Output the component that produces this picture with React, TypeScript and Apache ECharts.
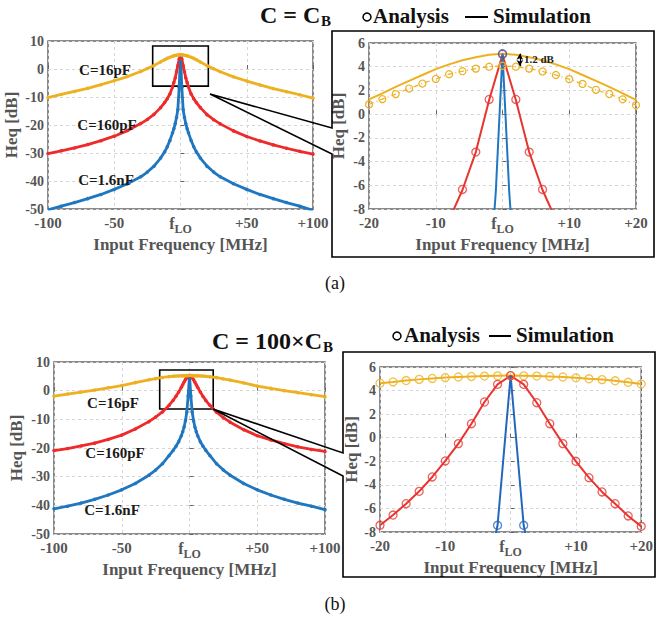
import React, { useEffect, useRef } from 'react';
import * as echarts from 'echarts';

// ---------- data ----------
const xWide = [-100, -90, -80, -70, -60, -50, -40, -30, -25, -20, -15, -12, -10, -8, -6, -5, -4, -3, -2, -1, 0, 1, 2, 3, 4, 5, 6, 8, 10, 12, 15, 20, 25, 30, 40, 50, 60, 70, 80, 90, 100];

// (a) C = C_B, wide view
const a16 = [-10.2, -9.1, -8.0, -6.9, -5.6, -4.2, -2.7, -0.9, 0.2, 1.25, 2.55, 3.3, 3.8, 4.2, 4.55, 4.7, 4.8, 4.9, 5.0, 5.05, 5.1, 5.05, 5.0, 4.9, 4.8, 4.7, 4.55, 4.2, 3.8, 3.3, 2.5, 1.2, 0.1, -1.0, -2.8, -4.3, -5.7, -7.0, -8.1, -9.2, -10.4];
const a160 = [-30.2, -29.2, -28.2, -27.0, -25.6, -24.0, -22.0, -19.5, -18.0, -16.2, -13.8, -12.0, -10.6, -8.9, -6.4, -4.8, -3.2, -1.0, 1.2, 3.6, 5.0, 3.6, 1.2, -1.0, -3.2, -4.8, -6.4, -8.9, -10.6, -12.0, -13.8, -16.3, -18.1, -19.6, -22.1, -24.1, -25.7, -27.1, -28.3, -29.4, -30.4];
const a1600 = [-50.3, -49.0, -47.7, -46.3, -44.8, -43.0, -41.0, -38.5, -36.8, -34.7, -31.8, -29.6, -27.8, -25.5, -22.8, -21.3, -19.5, -17.3, -14.5, -6.5, 5.0, -6.5, -14.5, -17.3, -19.5, -21.3, -22.8, -25.5, -27.8, -29.6, -31.8, -34.7, -36.8, -38.5, -41.0, -43.0, -44.8, -46.3, -47.7, -49.0, -50.5];

// (b) C = 100 x C_B, wide view
const b16 = [-1.9, -1.2, -0.5, 0.2, 1.0, 1.8, 2.8, 3.8, 4.2, 4.62, 4.9, 5.03, 5.1, 5.15, 5.2, 5.21, 5.23, 5.24, 5.25, 5.26, 5.27, 5.26, 5.25, 5.24, 5.23, 5.21, 5.2, 5.15, 5.08, 5.0, 4.85, 4.55, 4.1, 3.7, 2.7, 1.6, 0.8, 0.0, -0.7, -1.4, -2.1];
const b160 = [-20.9, -20.2, -19.3, -18.3, -17.0, -15.5, -13.4, -10.8, -9.2, -7.43, -5.05, -3.33, -1.97, -0.5, 1.19, 2.1, 3.03, 3.85, 4.53, 5.0, 5.26, 5.0, 4.53, 3.8, 2.97, 2.1, 1.19, -0.5, -2.0, -3.39, -5.1, -7.52, -9.4, -11.0, -13.6, -15.7, -17.2, -18.5, -19.6, -20.5, -21.2];
const b1600 = [-41.2, -40.3, -39.2, -37.9, -36.4, -34.6, -32.4, -29.5, -27.7, -25.5, -22.6, -20.8, -19.4, -17.8, -15.7, -14.3, -12.7, -10.5, -7.43, -1.9, 5.26, -1.9, -7.43, -10.5, -12.7, -14.3, -15.7, -17.8, -19.4, -20.8, -22.6, -25.5, -27.7, -29.5, -32.4, -34.6, -36.4, -37.9, -39.2, -40.3, -41.5];

// zoomed views
const xZoom = [-20, -18, -16, -14, -12, -10, -8, -6, -4, -2, 0, 2, 4, 6, 8, 10, 12, 14, 16, 18, 20];
const aZoomSim16 = [1.25, 1.75, 2.3, 2.8, 3.3, 3.8, 4.2, 4.55, 4.8, 5.0, 5.1, 5.0, 4.8, 4.55, 4.2, 3.8, 3.3, 2.8, 2.3, 1.75, 1.2];
const aZoomAna16 = [0.82, 1.27, 1.69, 2.16, 2.58, 2.97, 3.37, 3.62, 3.84, 4.0, 4.08, 4.0, 3.84, 3.6, 3.3, 2.95, 2.55, 2.05, 1.7, 1.25, 0.76];
const aZoomSimX160 = [-10, -8, -6, -4, -2, 0, 2, 4, 6, 8, 10];
const aZoomSim160 = [-10.6, -8.9, -6.4, -3.2, 1.2, 5.0, 1.2, -3.2, -6.4, -8.9, -10.6];
const aZoomAnaX160 = [-6, -4, -2, 0, 2, 4, 6];
const aZoomAna160 = [-6.35, -3.2, 1.24, 5.05, 1.24, -3.2, -6.35];
const aZoomSimX1600 = [-2, -1, 0, 1, 2];
const aZoomSim1600 = [-14.5, -6.5, 5.1, -6.5, -14.5];
const aZoomAnaX1600 = [0];
const aZoomAna1600 = [5.1];

const bZoom16 = [4.62, 4.73, 4.85, 4.95, 5.03, 5.1, 5.15, 5.2, 5.23, 5.25, 5.27, 5.25, 5.23, 5.2, 5.15, 5.08, 5.0, 4.93, 4.83, 4.7, 4.55];
const bZoom160 = [-7.43, -6.56, -5.6, -4.55, -3.33, -1.97, -0.5, 1.19, 3.03, 4.53, 5.26, 4.53, 2.97, 1.19, -0.5, -2.0, -3.39, -4.6, -5.6, -6.64, -7.52];
const bZoomSimX1600 = [-4, -2, 0, 2, 4];
const bZoomSim1600 = [-12.7, -7.43, 5.26, -7.43, -12.7];
const bZoomAnaX1600 = [-2, 2];
const bZoomAna1600 = [-7.43, -7.43];

// annotation boxes (data coords) and gap marker
const zoomBoxA = [[-21, 8.2], [21, -6.1]];
const zoomBoxB = [[-22, 7.2], [17.5, -6.4]];
const gapArrow = [[2.6, 5.1], [2.6, 4.05]];

const curveLabels = ['C=16pF', 'C=160pF', 'C=1.6nF'];

// ---------- styling ----------
const FONT = '"Liberation Serif", "Times New Roman", serif';
const GRAY = '#555555';
const YEL = '#EDB120';
const RED = '#EE2A2A';
const BLUE = '#1F77C0';
const RED2 = '#E8342F';
const BLUE2 = '#2367BD';

const pairs = (xs: number[], ys: number[]) => xs.map((x, i) => [x, ys[i]]);

function xAxisOf(gridIndex: number, min: number, max: number, interval: number, nameGap: number) {
  return {
    type: 'value', gridIndex, min, max, interval,
    name: 'Input Frequency [MHz]', nameLocation: 'middle', nameGap,
    nameTextStyle: { fontFamily: FONT, fontWeight: 'bold', fontSize: 17, color: GRAY },
    axisLine: { show: false },
    axisTick: { show: true, inside: true, length: 4, lineStyle: { color: '#666' } },
    splitLine: { show: true, lineStyle: { color: '#d6d6d6', type: [3, 3], width: 1 } },
    axisLabel: {
      margin: 6, fontFamily: FONT, fontWeight: 'bold', fontSize: 15, color: GRAY,
      formatter: (v: number) => (v === 0 ? '{f|f}{s|LO}' : v > 0 ? '+' + v : String(v)),
      rich: {
        f: { fontFamily: FONT, fontWeight: 'bold', fontSize: 16, color: GRAY, verticalAlign: 'top' },
        s: { fontFamily: FONT, fontWeight: 'bold', fontSize: 12, color: GRAY, verticalAlign: 'top', padding: [8, 0, 0, 0] },
      },
    },
  };
}

function yAxisOf(gridIndex: number, min: number, max: number, interval: number, nameGap: number) {
  return {
    type: 'value', gridIndex, min, max, interval,
    name: 'Heq [dB]', nameLocation: 'middle', nameGap,
    nameTextStyle: { fontFamily: FONT, fontWeight: 'bold', fontSize: 17, color: GRAY },
    axisLine: { show: false },
    axisTick: { show: true, inside: true, length: 4, lineStyle: { color: '#666' } },
    splitLine: { show: true, lineStyle: { color: '#d6d6d6', type: [3, 3], width: 1 } },
    axisLabel: { margin: 4, fontFamily: FONT, fontWeight: 'bold', fontSize: 14, color: GRAY },
  };
}

function wideLine(name: string, ax: number, ys: number[], color: string, extra: any = {}) {
  return {
    name, type: 'line', xAxisIndex: ax, yAxisIndex: ax, data: pairs(xWide, ys),
    showSymbol: true, symbol: 'circle', symbolSize: 3.5,
    lineStyle: { color, width: 2.8 }, itemStyle: { color }, z: 3, ...extra,
  };
}

function simLine(name: string, ax: number, xs: number[], ys: number[], color: string, extra: any = {}) {
  return {
    name, type: 'line', xAxisIndex: ax, yAxisIndex: ax, data: pairs(xs, ys),
    showSymbol: false, symbol: 'none', lineStyle: { color, width: 2 }, itemStyle: { color }, z: 3, ...extra,
  };
}

function anaPoints(name: string, ax: number, xs: number[], ys: number[], color: string) {
  return {
    name, type: 'scatter', xAxisIndex: ax, yAxisIndex: ax, data: pairs(xs, ys),
    symbol: 'circle', symbolSize: 8,
    itemStyle: { color: 'rgba(255,255,255,0)', borderColor: color, borderWidth: 1.3 }, z: 5,
  };
}

function boxArea(box: number[][]) {
  return {
    silent: true,
    itemStyle: { color: 'rgba(0,0,0,0)', borderColor: '#000', borderWidth: 1.6 },
    data: [[{ coord: box[0] }, { coord: box[1] }]],
  };
}

const T = (x: number, y: number, text: string, font: string, align = 'left', fill = '#111') => ({
  type: 'text', x, y, z: 20,
  style: { text, font, fill, align, verticalAlign: 'middle', textAlign: align, textVerticalAlign: 'middle' },
});

export default function App() {
  const ref = useRef<HTMLDivElement>(null);
  useEffect(() => {
    if (!ref.current) return;
    const chart = echarts.init(ref.current, null, { renderer: 'svg' });
    const boldLbl = `bold 15px ${FONT}`;
    const option: any = {
      animation: false,
      backgroundColor: '#fff',
      grid: [
        { left: 48, top: 41, width: 265, height: 168, show: true, borderColor: '#666', borderWidth: 1.5, backgroundColor: 'transparent' },
        { left: 369, top: 43, width: 267, height: 166, show: true, borderColor: '#666', borderWidth: 1.5, backgroundColor: 'transparent' },
        { left: 54, top: 362, width: 271, height: 172, show: true, borderColor: '#666', borderWidth: 1.5, backgroundColor: 'transparent' },
        { left: 380, top: 367, width: 265, height: 165, show: true, borderColor: '#666', borderWidth: 1.5, backgroundColor: 'transparent' },
      ],
      xAxis: [
        xAxisOf(0, -100, 100, 50, 23),
        xAxisOf(1, -20, 20, 10, 23),
        xAxisOf(2, -100, 100, 50, 22),
        xAxisOf(3, -20, 20, 10, 20),
      ],
      yAxis: [
        yAxisOf(0, -50, 10, 10, 28),
        yAxisOf(1, -8, 6, 2, 22),
        yAxisOf(2, -50, 10, 10, 29),
        yAxisOf(3, -8, 6, 2, 17),
      ],
      series: [
        // (a) wide
        wideLine('a 160pF', 0, a160, RED),
        wideLine('a 1.6nF', 0, a1600, BLUE),
        wideLine('a 16pF', 0, a16, YEL, { markArea: boxArea(zoomBoxA) }),
        // (a) zoom
        simLine('a zoom sim 16pF', 1, xZoom, aZoomSim16, YEL, {
          markLine: {
            silent: true, symbol: ['arrow', 'arrow'], symbolSize: [5, 6],
            lineStyle: { color: '#000', width: 1.2, type: 'solid' }, label: { show: false },
            data: [[{ coord: gapArrow[0] }, { coord: gapArrow[1] }]],
          },
        }),
        {
          name: 'a zoom ana 16pF', type: 'line', xAxisIndex: 1, yAxisIndex: 1, data: pairs(xZoom, aZoomAna16),
          showSymbol: true, symbol: 'circle', symbolSize: 7,
          lineStyle: { color: YEL, width: 1.2, type: [5, 3, 1, 3] },
          itemStyle: { color: 'rgba(255,255,255,0)', borderColor: YEL, borderWidth: 1.2 }, z: 4,
        },
        simLine('a zoom sim 160pF', 1, aZoomSimX160, aZoomSim160, RED2),
        simLine('a zoom sim 1.6nF', 1, aZoomSimX1600, aZoomSim1600, BLUE),
        anaPoints('a zoom ana 160pF', 1, aZoomAnaX160, aZoomAna160, RED2),
        anaPoints('a zoom ana 1.6nF', 1, aZoomAnaX1600, aZoomAna1600, BLUE2),
        // (b) wide
        wideLine('b 160pF', 2, b160, RED),
        wideLine('b 1.6nF', 2, b1600, BLUE),
        wideLine('b 16pF', 2, b16, YEL, { markArea: boxArea(zoomBoxB) }),
        // (b) zoom
        simLine('b zoom 16pF', 3, xZoom, bZoom16, YEL),
        simLine('b zoom 160pF', 3, xZoom, bZoom160, RED2),
        simLine('b zoom sim 1.6nF', 3, bZoomSimX1600, bZoomSim1600, BLUE2),
        anaPoints('b zoom ana 16pF', 3, xZoom, bZoom16, YEL),
        anaPoints('b zoom ana 160pF', 3, xZoom, bZoom160, RED2),
        anaPoints('b zoom ana 1.6nF', 3, bZoomAnaX1600, bZoomAna1600, BLUE2),
      ],
      graphic: [
        // callout frames
        {
          type: 'polygon', z: 10, silent: true,
          shape: { points: [[210, 94], [332, 128], [332, 31], [654, 31], [654, 257], [332, 257], [332, 154]] },
          style: { fill: 'none', stroke: '#000', lineWidth: 1.6 },
        },
        {
          type: 'polygon', z: 10, silent: true,
          shape: { points: [[213, 409], [343, 453], [343, 352], [655, 352], [655, 577], [343, 577], [343, 476]] },
          style: { fill: 'none', stroke: '#000', lineWidth: 1.6 },
        },
        // titles
        T(260, 15, 'C = C', `bold 24px ${FONT}`),
        T(321, 21, 'B', `bold 15px ${FONT}`),
        T(212, 341, 'C = 100×C', `bold 24px ${FONT}`),
        T(323, 347, 'B', `bold 15px ${FONT}`),
        // legends
        { type: 'circle', z: 20, shape: { cx: 367, cy: 17, r: 4 }, style: { fill: 'none', stroke: '#000', lineWidth: 1.5 } },
        T(373, 16, 'Analysis', `bold 21px ${FONT}`),
        { type: 'line', z: 20, shape: { x1: 465, y1: 17, x2: 488, y2: 17 }, style: { stroke: '#000', lineWidth: 2 } },
        T(493, 16, 'Simulation', `bold 21px ${FONT}`),
        { type: 'circle', z: 20, shape: { cx: 397, cy: 336, r: 4 }, style: { fill: 'none', stroke: '#000', lineWidth: 1.5 } },
        T(404, 335, 'Analysis', `bold 21px ${FONT}`),
        { type: 'line', z: 20, shape: { x1: 489, y1: 336, x2: 511, y2: 336 }, style: { stroke: '#000', lineWidth: 2 } },
        T(516, 335, 'Simulation', `bold 21px ${FONT}`),
        // curve labels
        T(105, 70, curveLabels[0], boldLbl, 'center', '#1a1a1a'),
        T(107, 125, curveLabels[1], boldLbl, 'center', '#1a1a1a'),
        T(106, 180, curveLabels[2], boldLbl, 'center', '#1a1a1a'),
        T(113, 403, curveLabels[0], boldLbl, 'center', '#1a1a1a'),
        T(115, 453, curveLabels[1], boldLbl, 'center', '#1a1a1a'),
        T(112, 510, curveLabels[2], boldLbl, 'center', '#1a1a1a'),
        // gap annotation
        T(524, 59, '1.2 dB', `bold 11px ${FONT}`, 'left', '#222'),
        // panel tags
        T(335, 283, '(a)', `18px ${FONT}`, 'center', '#111'),
        T(335, 604, '(b)', `18px ${FONT}`, 'center', '#111'),
      ],
    };
    chart.setOption(option);
    return () => chart.dispose();
  }, []);
  return (
    <div
      ref={ref}
      style={{ position: 'absolute', left: 0, top: 0, width: 656, height: 623, background: '#fff' }}
    />
  );
}
